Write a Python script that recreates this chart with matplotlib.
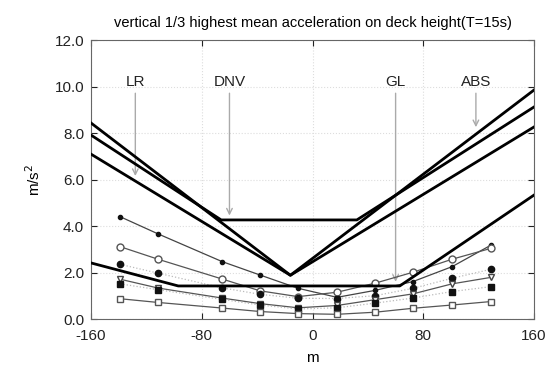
import numpy as np
import matplotlib.pyplot as plt

plt.rcParams['font.family'] = ['Liberation Sans', 'DejaVu Sans']
plt.rcParams['axes.unicode_minus'] = False

# station positions along the ship (m)
x_st = [-139, -111.6, -65.4, -37.9, -10.5, 17.7, 45.2, 72.6, 100.8, 129]

# computed accelerations at the stations (m/s^2)
s1 = [4.42, 3.68, 2.49, 1.91, 1.34, 0.95, 1.25, 1.63, 2.27, 3.20]
s2 = [3.13, 2.59, 1.74, 1.23, 0.98, 1.17, 1.56, 2.03, 2.59, 3.06]
s3 = [2.37, 1.99, 1.36, 1.08, 0.91, 0.90, 1.02, 1.34, 1.77, 2.16]
s4 = [1.73, 1.35, 0.92, 0.68, 0.50, 0.60, 0.85, 1.10, 1.53, 1.81]
s5 = [1.53, 1.28, 0.86, 0.62, 0.45, 0.50, 0.70, 0.92, 1.20, 1.41]
s6 = [0.89, 0.73, 0.49, 0.34, 0.25, 0.22, 0.31, 0.48, 0.62, 0.77]

# class society rules
abs_x = [-160, -16, 160]
abs_y = [8.45, 1.9, 9.87]
lr_x = [-160, -16, 160]
lr_y = [7.11, 1.9, 8.28]
dnv_x = [-160, -66, 32, 160]
dnv_y = [7.93, 4.28, 4.28, 9.14]
gl_x = [-160, -97, 63, 160]
gl_y = [2.43, 1.44, 1.44, 5.35]

labels = ['LR', 'DNV', 'GL', 'ABS']
label_x = [-128, -60, 60, 118]
arrow_y = [6.05, 4.35, 1.5, 8.15]

fig = plt.figure(figsize=(5.5, 3.68), dpi=100)
ax = fig.add_axes([0.1655, 0.132, 0.8055, 0.758])

for xs, ys in [(abs_x, abs_y), (lr_x, lr_y), (dnv_x, dnv_y), (gl_x, gl_y)]:
    ax.plot(xs, ys, color='black', lw=2.0, zorder=4)

ax.plot(x_st, s1, color='#444444', lw=0.9, marker='o', ms=3, mfc='#111111', mec='#111111', zorder=3)
ax.plot(x_st, s2, color='#555555', lw=0.9, marker='o', ms=5, mfc='white', mec='#555555', zorder=3)
ax.plot(x_st, s3, color='#bbbbbb', lw=0.9, ls=':', marker='o', ms=4.5, mfc='#111111', mec='#111111', zorder=3)
ax.plot(x_st, s4, color='#555555', lw=0.9, marker='v', ms=4.5, mfc='white', mec='#444444', zorder=3)
ax.plot(x_st, s5, color='#bbbbbb', lw=0.9, ls=':', marker='s', ms=4.5, mfc='#111111', mec='#111111', zorder=3)
ax.plot(x_st, s6, color='#555555', lw=0.9, marker='s', ms=5, mfc='white', mec='#555555', zorder=3)

for lab, lx, ay in zip(labels, label_x, arrow_y):
    ax.annotate('', xy=(lx, ay), xytext=(lx, 9.85),
                arrowprops=dict(arrowstyle='->', color='#aaaaaa', lw=1.0), zorder=2)
    ax.text(lx, 10.2, lab, ha='center', va='center', fontsize=11, color='#222222')

ax.set_xlim(-160, 160)
ax.set_ylim(0, 12)
ax.set_xticks([-160, -80, 0, 80, 160])
ax.set_yticks(np.arange(0, 12.1, 2))
ax.set_yticklabels([f'{v:.1f}' for v in np.arange(0, 12.1, 2)])
ax.tick_params(direction='in', top=True, right=True, labelsize=11, colors='#222222', length=4)
ax.tick_params(axis='x', pad=7)
ax.tick_params(axis='y', pad=5)
ax.grid(True, color='#dddddd', ls=':', lw=0.8)
for sp in ax.spines.values():
    sp.set_color('#666666')

ax.set_xlabel('m', fontsize=11, labelpad=6)
ax.set_ylabel('m/s$^2$', fontsize=11, labelpad=8)
ax.set_title('vertical 1/3 highest mean acceleration on deck height(T=15s)', fontsize=10.5, pad=10)

fig.savefig('out.png', dpi=100)
